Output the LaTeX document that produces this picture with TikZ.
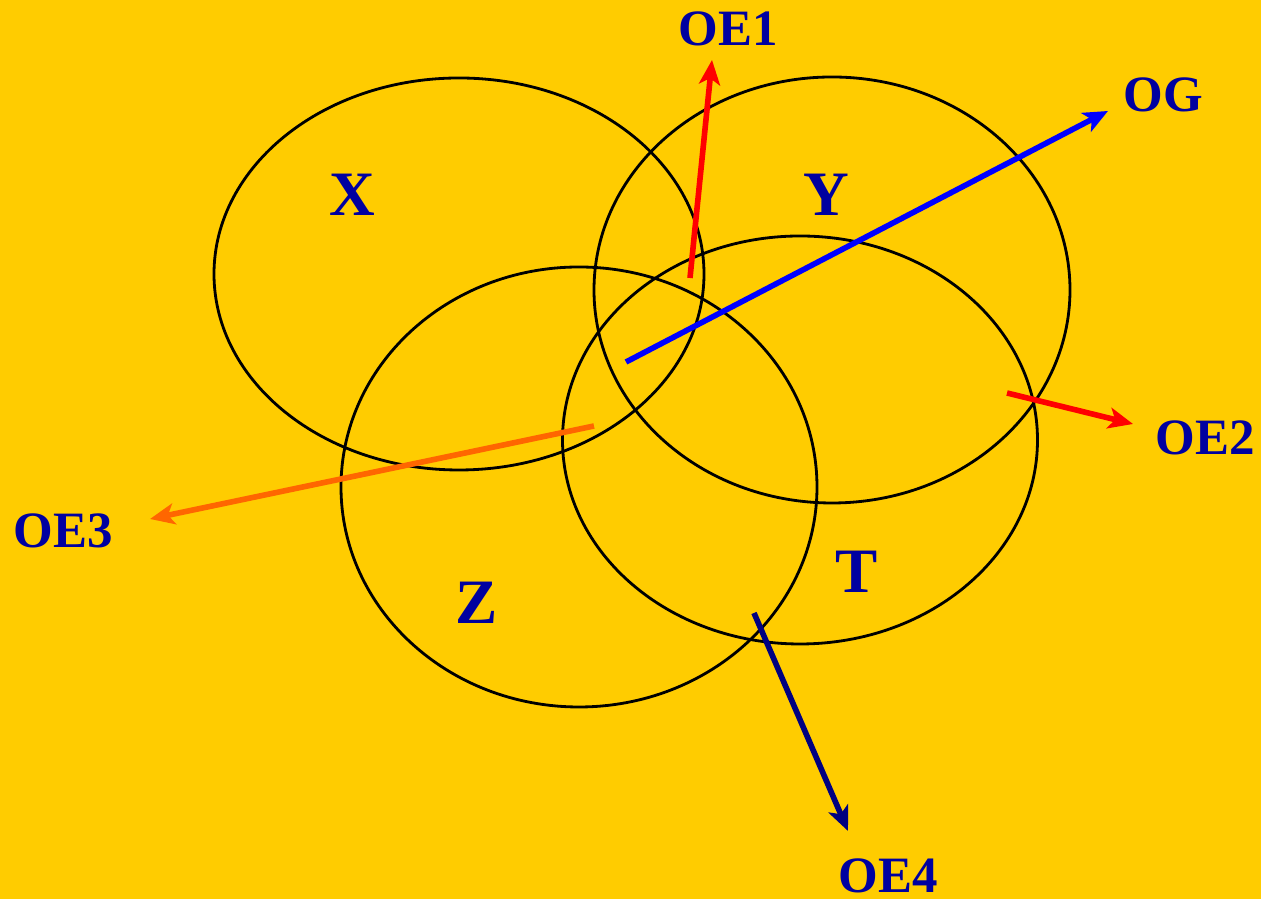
\documentclass[tikz,border=0pt]{standalone}
\usepackage{fontspec}
\setmainfont{Liberation Serif}
\usepackage{xcolor}
\usepackage{tikz}
\usetikzlibrary{shapes.geometric,arrows.meta,positioning}

\definecolor{bggold}{RGB}{255,204,0}
\definecolor{tagblue}{RGB}{0,0,160}
\definecolor{oeorange}{RGB}{255,102,0}
\definecolor{oenavy}{RGB}{0,0,128}

\begin{document}
\begin{tikzpicture}[
        set/.style={draw, ellipse, line width=0.8pt, inner sep=0pt},
        tag/.style={text=tagblue, font=\fontsize{14.5}{17}\selectfont\bfseries},
        settag/.style={text=tagblue, font=\fontsize{18}{21}\selectfont\bfseries},
        vec/.style={line width=1.6pt, -{Stealth[length=7pt, width=6pt, inset=1.8pt]}}
    ]
        \fill[bggold] (0,0) rectangle (12.61,-8.99);
        \useasboundingbox (0,0) rectangle (12.61,-8.99);

        % the four sets
        \node[set, minimum width=4.90cm, minimum height=3.92cm] (setX) at (4.59,-2.74) {};
        \node[set, minimum width=4.76cm, minimum height=4.26cm] (setY) at (8.32,-2.90) {};
        \node[set, minimum width=4.76cm, minimum height=4.40cm] (setZ) at (5.79,-4.87) {};
        \node[set, minimum width=4.75cm, minimum height=4.08cm] (setT) at (8.00,-4.40) {};

        \node[settag] (X) at (3.52,-1.95) {X};
        \node[settag] (Y) at (8.26,-1.95) {Y};
        \node[settag] (Z) at (4.77,-6.03) {Z};
        \node[settag] (T) at (8.57,-5.72) {T};

        % outputs
        \node[tag] (OE1) at (7.28,-0.29) {OE1};
        \node[tag] (OG)  at (11.63,-0.95) {OG};
        \node[tag] (OE2) at (12.05,-4.38) {OE2};
        \node[tag] (OE3) at (0.63,-5.31) {OE3};
        \node[tag] (OE4) at (8.88,-8.76) {OE4};

        \coordinate (e1s) at (6.90,-2.78);
        \coordinate (e1t) at (7.12,-0.60);
        \coordinate (ogs) at (6.26,-3.62);
        \coordinate (ogt) at (11.08,-1.11);
        \coordinate (e2s) at (10.07,-3.93);
        \coordinate (e2t) at (11.33,-4.24);
        \coordinate (e3s) at (5.94,-4.26);
        \coordinate (e3t) at (1.50,-5.19);
        \coordinate (e4s) at (7.54,-6.13);
        \coordinate (e4t) at (8.48,-8.31);

        \draw[vec, red] (e1s) -- (e1t);
        \draw[vec, blue] (ogs) -- (ogt);
        \draw[vec, red] (e2s) -- (e2t);
        \draw[vec, oeorange] (e3s) -- (e3t);
        \draw[vec, oenavy] (e4s) -- (e4t);
    \end{tikzpicture}
\end{document}
